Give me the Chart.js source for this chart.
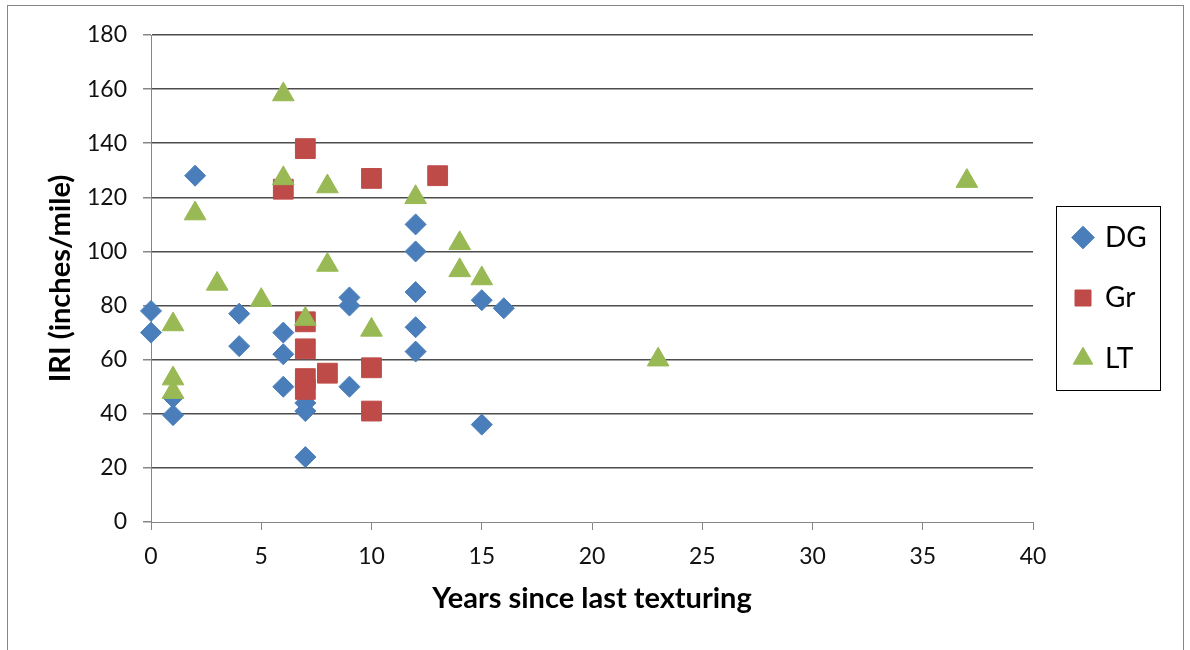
<!DOCTYPE html>
<html>
<head>
<meta charset="utf-8">
<title>IRI vs years since last texturing</title>
<script src="https://cdn.jsdelivr.net/npm/chart.js@4"></script>
<style>
    html, body { margin: 0; padding: 0; background: #fff; }
</style>
</head>
<body>
<canvas id="iriChart" width="1190" height="650"></canvas>
<script>
// Years since last texturing / IRI (inches/mile)
const dgYears = [0, 0, 1, 1, 2, 4, 4, 6, 6, 6, 7, 7, 7, 9, 9, 9, 12, 12, 12, 12, 12, 15, 15, 16];
const dgIri   = [78, 70, 46, 39.5, 128, 77, 65, 70, 62, 50, 44, 41, 24, 83, 80, 50, 110, 100, 85, 72, 63, 82, 36, 79];

const grYears = [6, 7, 7, 7, 7, 7, 8, 10, 10, 10, 13];
const grIri   = [123, 138, 74, 64, 53, 49, 55, 127, 57, 41, 128];

const ltYears = [1, 1, 1, 2, 3, 5, 6, 6, 7, 8, 8, 10, 12, 14, 14, 15, 23, 37];
const ltIri   = [73, 53, 48, 114, 88, 82, 158, 127, 75, 124, 95, 71, 120, 103, 93, 90, 60, 126];

const seriesNames = ["DG", "Gr", "LT"];
const xTicks = [0, 5, 10, 15, 20, 25, 30, 35, 40];
const yTicks = [0, 20, 40, 60, 80, 100, 120, 140, 160, 180];

const AXIS_GRAY = "#868686";

function toPoints(xs, ys) {
    return xs.map((x, i) => ({ x: x, y: ys[i] }));
}

Chart.defaults.font.family = "Lato, 'Open Sans', sans-serif";
Chart.defaults.color = "#000";

// outer frame + legend box, and pin the legend where Excel put it
const frames = {
    id: "frames",
    beforeInit(chart) {
        const lg = chart.legend;
        const fit = lg.fit;
        lg.fit = function () {
            fit.call(this);
            this.width = 157;
        };
    },
    afterLayout(chart) {
        const lg = chart.legend;
        lg.left = 1042.5;
        lg.right = 1190;
        lg.top = 176;
        lg.bottom = 420;
        lg.width = lg.right - lg.left;
        lg.height = lg.bottom - lg.top;
    },
    beforeDraw(chart) {
        const ctx = chart.ctx;
        ctx.save();
        ctx.fillStyle = "#fff";
        ctx.fillRect(0, 0, chart.width, chart.height);
        ctx.strokeStyle = AXIS_GRAY;
        ctx.lineWidth = 1;
        ctx.strokeRect(7.5, 5.5, 1176, 700);
        ctx.restore();
    },
    afterDraw(chart) {
        const ctx = chart.ctx;
        ctx.save();
        ctx.strokeStyle = "#000";
        ctx.lineWidth = 1;
        ctx.strokeRect(1056.5, 206.5, 104, 184);
        ctx.restore();
    }
};

const ctx = document.getElementById("iriChart");
new Chart(ctx, {
    type: "scatter",
    data: {
        datasets: [
            {
                label: seriesNames[0],
                data: toPoints(dgYears, dgIri),
                pointStyle: "rectRot",
                pointRadius: 10.5,
                backgroundColor: "#4a7ebb",
                borderColor: "#4a7ebb",
                borderWidth: 1,
                order: 2
            },
            {
                label: seriesNames[1],
                data: toPoints(grYears, grIri),
                pointStyle: "rect",
                pointRadius: 14,
                backgroundColor: "#be4b48",
                borderColor: "#be4b48",
                borderWidth: 1,
                order: 1
            },
            {
                label: seriesNames[2],
                data: toPoints(ltYears, ltIri),
                pointStyle: "triangle",
                pointRadius: 12.5,
                backgroundColor: "#98b954",
                borderColor: "#98b954",
                borderWidth: 1,
                order: 0
            }
        ]
    },
    options: {
        responsive: false,
        animation: false,
        clip: false,
        layout: { autoPadding: false, padding: { top: 35, left: 0, right: 0, bottom: 0 } },
        plugins: {
            tooltip: { enabled: false },
            legend: {
                position: "right",
                align: "center",
                labels: {
                    usePointStyle: true,
                    boxWidth: 16,
                    boxHeight: 16,
                    padding: 32.5,
                    font: { size: 28 },
                    color: "#000",
                    sort: (a, b) => a.datasetIndex - b.datasetIndex
                }
            }
        },
        scales: {
            x: {
                type: "linear",
                min: xTicks[0],
                max: xTicks[xTicks.length - 1],
                afterFit: (scale) => { scale.height = 128; },
                afterBuildTicks: (scale) => { scale.ticks = xTicks.map(v => ({ value: v })); },
                ticks: { padding: 13, font: { size: 23 }, color: "#111" },
                grid: {
                    drawOnChartArea: false,
                    drawTicks: true,
                    tickLength: 8,
                    tickColor: AXIS_GRAY
                },
                border: { color: AXIS_GRAY, width: 1 },
                title: {
                    display: true,
                    text: "Years since last texturing",
                    font: { size: 29, weight: "bold" },
                    color: "#000",
                    padding: { top: 0, bottom: 34 }
                }
            },
            y: {
                type: "linear",
                min: yTicks[0],
                max: yTicks[yTicks.length - 1],
                afterFit: (scale) => { scale.width = 151; },
                afterBuildTicks: (scale) => { scale.ticks = yTicks.map(v => ({ value: v })); },
                ticks: { padding: 16, font: { size: 23 }, color: "#111" },
                grid: {
                    color: (c) => (c.tick && c.tick.value === 0 ? "rgba(0,0,0,0)" : "#4d4d4d"),
                    lineWidth: 1.5,
                    tickLength: 8,
                    tickColor: AXIS_GRAY
                },
                border: { color: AXIS_GRAY, width: 1 },
                title: {
                    display: true,
                    text: "IRI (inches/mile)",
                    font: { size: 29, weight: "bold" },
                    color: "#000",
                    padding: { top: 43, bottom: 0 }
                }
            }
        }
    },
    plugins: [frames]
});
</script>
</body>
</html>
